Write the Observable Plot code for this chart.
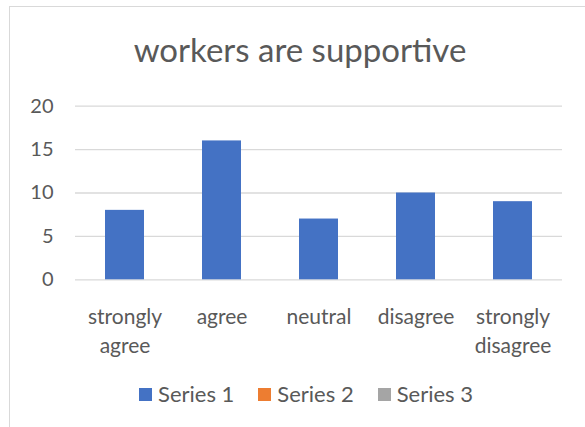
<!DOCTYPE html>
<html><head><meta charset="utf-8">
<script src="https://cdn.jsdelivr.net/npm/d3@7"></script>
<script src="https://cdn.jsdelivr.net/npm/@observablehq/plot@0.6"></script>
<style>
body{margin:0;background:#fff;font-family:Lato,sans-serif;color:#595959;width:585px;height:427px;overflow:hidden;position:relative;}
#frame{position:absolute;left:9px;top:6px;width:620px;height:460px;border:1px solid #d9d9d9;box-sizing:border-box;}
#title{position:absolute;left:0;width:600px;top:33px;text-align:center;font-size:33px;line-height:1;white-space:nowrap;}
#chart{position:absolute;left:0;top:80px;}
#legend{position:absolute;left:0;width:612px;top:383px;display:flex;justify-content:center;font-size:22px;line-height:1;}
.item{display:flex;align-items:center;margin:0 12px;}
.sw{width:13px;height:13px;margin-right:6px;}
</style></head>
<body>
<div id="frame"></div>
<div id="title"></div>
<div id="chart"></div>
<div id="legend"></div>
<script>
const title = "workers are supportive";
const categories = ["strongly\nagree", "agree", "neutral", "disagree", "strongly\ndisagree"];
const series1 = [8, 16, 7, 10, 9];
const seriesNames = ["Series 1", "Series 2", "Series 3"];
const seriesColors = ["#4472C4", "#ED7D31", "#A5A5A5"];
const yTicks = [0, 5, 10, 15, 20];

const data = categories.map((c, i) => ({cat: c, value: series1[i]}));

document.getElementById("title").textContent = title;

const chart = Plot.plot({
  width: 585,
  height: 290,
  marginTop: 25.7,
  marginBottom: 90.7,
  marginLeft: 75,
  marginRight: 23,
  style: {fontFamily: "Lato, sans-serif", color: "#595959", background: "transparent"},
  x: {domain: categories, paddingInner: 0.6, paddingOuter: 0.3, label: null},
  y: {domain: [0, 20], label: null},
  marks: [
    Plot.gridY(yTicks, {stroke: "#d9d9d9", strokeOpacity: 1, strokeWidth: 1.3}),
    Plot.barY(data, {x: "cat", y: "value", fill: seriesColors[0]}),
    Plot.axisY(yTicks, {tickSize: 0, tickPadding: 22, fontSize: 20, fill: "#595959", label: null}),
    Plot.axisX({tickSize: 0, tickPadding: 24, fontSize: 21, lineHeight: 1.36, fill: "#595959", label: null})
  ]
});
document.getElementById("chart").appendChild(chart);

const legend = document.getElementById("legend");
seriesNames.forEach((name, i) => {
  const it = document.createElement("div");
  it.className = "item";
  const sw = document.createElement("div");
  sw.className = "sw";
  sw.style.background = seriesColors[i];
  const tx = document.createElement("span");
  tx.textContent = name;
  it.appendChild(sw);
  it.appendChild(tx);
  legend.appendChild(it);
});
</script>
</body></html>
